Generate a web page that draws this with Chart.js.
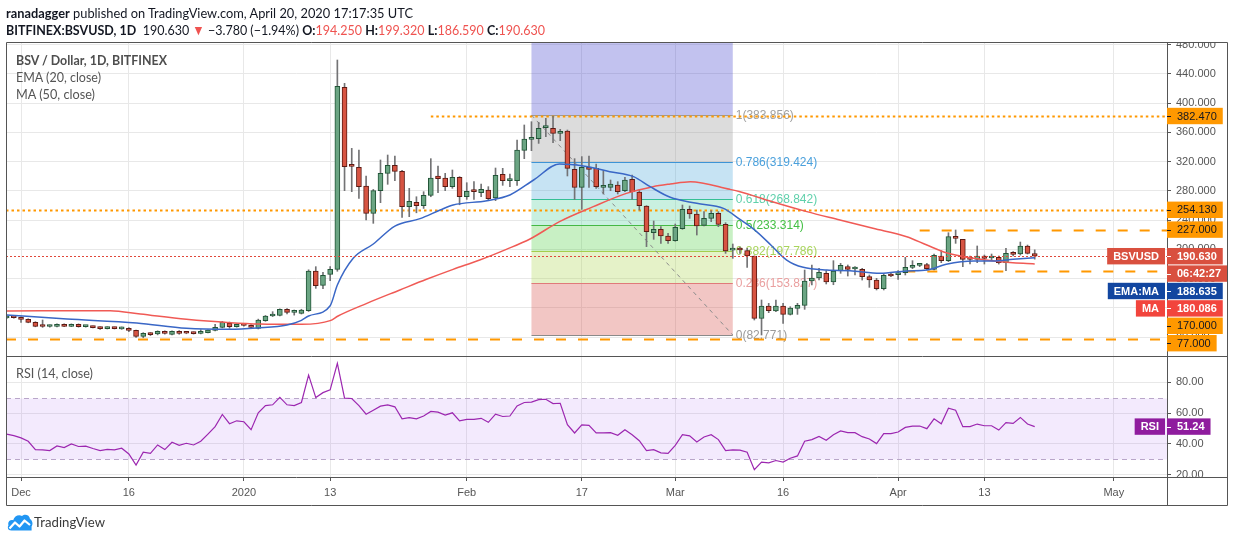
<!DOCTYPE html>
<html lang="en">
<head>
<meta charset="utf-8">
<title>BSV / Dollar, 1D, BITFINEX</title>
<script src="https://cdn.jsdelivr.net/npm/chart.js"></script>
<style>
  html, body { margin: 0; padding: 0; background: #fff; }
  body { position: relative; width: 1234px; height: 541px; overflow: hidden; font-family: Lato, 'Liberation Sans', sans-serif; color: #131722; }
  canvas { position: absolute; left: 0; top: 0; width: 1234px; height: 541px; }
  .t { position: absolute; white-space: nowrap; line-height: 1; transform-origin: 0 50%; z-index: 5; }
  .h { left: 6px; font-size: 14px; }
  .dn { color: #ef5350; }
  .leg { left: 16px; font-size: 13px; color: #555; }
  .brand { left: 34px; top: 515px; font-size: 14px; color: #3a3a3a; }
  b { font-weight: 700; }
</style>
</head>
<body>
<canvas id="main" width="1234" height="541"></canvas>
<canvas id="rsi" width="1234" height="541"></canvas>

<div class="t h" style="top:6px" data-w="407"><b>ranadagger</b> published on TradingView.com, April 20, 2020 17:17:35 UTC</div>
<div class="t h" style="top:23px" data-w="539"><b>BITFINEX:BSVUSD, 1D</b>&nbsp; 190.630 <span class="dn">▼</span> −3.780 (−1.94%) <b>O:</b><span class="dn">194.250</span> <b>H:</b><span class="dn">199.320</span> <b>L:</b><span class="dn">186.590</span> <b>C:</b><span class="dn">190.630</span></div>
<div class="t leg" style="top:54px;font-weight:700;color:#4e4e4e" data-w="151">BSV / Dollar, 1D, BITFINEX</div>
<div class="t leg" style="top:71px" data-w="85">EMA (20, close)</div>
<div class="t leg" style="top:88px" data-w="79">MA (50, close)</div>
<div class="t leg" style="top:367px" data-w="77">RSI (14, close)</div>
<svg style="position:absolute;left:7px;top:513px;z-index:5" width="26" height="18" viewBox="0 0 26 18">
  <path d="M4.5 17.5 C1 17.5 0 14.5 1.5 12.3 C0.3 9 3 6.4 6.2 7.3 C7.2 3.2 11.5 1.2 15 3 C17.6 0.4 22.6 1.6 23 6 C25.6 7.2 26.2 11.5 24.6 13.4 L24.6 17.5 Z" fill="#2196f3"/>
  <polyline points="2.5,15.5 8,9.5 12.5,13.5 17.5,7.5 23,12" stroke="#fff" stroke-width="2.2" fill="none" stroke-linejoin="round"/>
</svg>
<div class="t brand" data-w="71">TradingView</div>

<script>
// ---- values ----
// x is counted in days from 1 Dec 2019; the first candle is 29 Nov 2019
const firstDay = -2;

const opens = [
  106.0, 108.3, 106.9, 104.2, 100.1, 94.6, 94.4,
  94.6, 97.4, 94.6, 97.4, 94.2, 94.6, 93.5,
  91.4, 93.2, 91.2, 92.0, 89.1, 80.9, 85.5,
  84.1, 87.8, 83.7, 87.8, 86.5, 86.4, 85.0,
  86.0, 89.1, 93.2, 98.7, 94.2, 96.5, 96.0,
  91.9, 102.4, 108.8, 109.7, 117.9, 113.8, 112.4,
  116.1, 170.4, 150.7, 165.8, 172.6, 421.7, 314.5,
  312.2, 286.7, 249.3, 280.3, 304.0, 315.0, 306.8,
  258.4, 264.3, 259.8, 273.9, 300.4, 297.6, 285.8,
  298.5, 272.0, 279.4, 277.6, 281.2, 270.3, 302.7,
  294.0, 294.0, 335.5, 350.6, 351.5, 366.5, 365.6,
  358.8, 362.0, 309.5, 284.9, 312.7, 310.9, 284.9,
  284.9, 288.0, 280.3, 295.8, 278.5, 259.3, 222.8,
  227.4, 218.3, 211.9, 228.3, 254.8, 248.4, 232.9,
  242.4, 249.3, 234.2, 199.0, 200.5, 198.2, 190.9,
  105.6, 122.5, 115.6, 122.5, 111.0, 119.3, 123.4,
  156.7, 160.8, 167.2, 155.3, 170.4, 176.3, 173.1,
  172.6, 162.6, 158.0, 146.2, 165.8, 165.3, 168.1,
  175.4, 178.1, 179.0, 172.6, 190.9, 184.5, 217.3,
  213.7, 187.2, 186.3, 190.9, 188.2, 189.0, 181.7,
  195.0, 193.6, 204.6, 194.25
];
const highs = [
  110.0, 109.0, 107.5, 105.0, 101.0, 103.3, 96.5,
  98.0, 98.0, 98.0, 98.0, 96.0, 95.0, 94.0,
  94.0, 93.6, 93.8, 93.0, 89.5, 86.0, 86.0,
  88.5, 88.5, 88.5, 88.8, 87.0, 87.0, 90.0,
  90.0, 97.5, 101.5, 100.5, 98.0, 98.5, 97.0,
  104.5, 109.5, 114.7, 118.5, 119.0, 117.0, 118.0,
  172.0, 176.3, 168.5, 176.3, 459.1, 427.2, 338.2,
  336.0, 300.4, 282.0, 322.3, 329.1, 327.8, 308.0,
  283.5, 272.0, 278.9, 324.1, 314.0, 304.0, 308.6,
  299.5, 291.2, 292.6, 289.4, 285.8, 311.3, 310.9,
  303.1, 349.6, 370.2, 374.7, 373.9, 379.3, 382.5,
  364.2, 363.3, 324.1, 326.9, 327.8, 316.8, 307.7,
  294.9, 292.6, 298.5, 301.7, 281.2, 259.8, 238.8,
  231.0, 221.9, 234.7, 260.7, 259.3, 253.8, 251.6,
  252.9, 251.6, 236.5, 207.3, 203.0, 201.3, 191.0,
  130.7, 126.1, 130.7, 126.1, 121.5, 126.1, 171.7,
  178.6, 174.0, 170.8, 184.5, 180.8, 178.6, 176.3,
  174.0, 164.9, 160.3, 166.2, 168.1, 170.8, 189.0,
  184.5, 180.8, 180.8, 193.6, 198.2, 222.8, 226.5,
  213.7, 190.9, 204.6, 192.2, 193.6, 190.9, 201.4,
  196.8, 210.0, 205.9, 199.32
];
const lows = [
  105.0, 105.8, 100.1, 99.5, 94.0, 93.2, 93.5,
  94.0, 94.2, 94.2, 93.5, 93.5, 92.5, 90.5,
  91.0, 91.0, 90.5, 87.5, 79.5, 79.0, 82.0,
  83.0, 84.0, 83.0, 83.8, 84.5, 84.0, 84.3,
  85.5, 88.5, 92.5, 92.0, 93.5, 95.0, 92.5,
  91.0, 101.5, 108.0, 109.0, 111.5, 110.0, 111.5,
  115.0, 146.6, 146.1, 157.1, 170.0, 280.3, 278.9,
  269.8, 240.2, 235.6, 263.9, 289.0, 294.0, 243.8,
  244.7, 250.0, 256.0, 272.0, 277.6, 280.3, 283.5,
  261.0, 268.4, 268.4, 272.0, 267.5, 266.6, 287.6,
  285.8, 287.6, 324.1, 335.0, 345.0, 354.2, 346.0,
  348.7, 300.4, 268.4, 254.7, 284.9, 283.5, 275.8,
  280.3, 275.8, 278.9, 268.4, 253.8, 203.7, 213.7,
  208.2, 208.2, 211.0, 227.4, 242.4, 219.6, 232.0,
  237.9, 231.0, 194.5, 187.7, 194.5, 175.4, 103.3,
  82.771, 113.3, 114.7, 98.7, 110.1, 111.0, 117.9,
  151.2, 158.0, 152.6, 151.6, 167.2, 163.5, 164.9,
  158.0, 148.0, 144.4, 144.4, 162.6, 158.9, 164.9,
  173.6, 176.3, 171.7, 171.7, 181.8, 183.1, 208.2,
  176.3, 179.9, 181.8, 179.9, 185.4, 179.9, 170.8,
  190.9, 192.2, 193.6, 186.59
];
const closes = [
  108.8, 106.5, 104.2, 100.1, 94.6, 94.4, 94.6,
  97.4, 94.6, 97.4, 94.2, 94.7, 92.8, 91.4,
  93.2, 91.4, 93.2, 89.1, 80.9, 85.0, 83.2,
  87.8, 85.0, 87.8, 85.0, 85.2, 84.6, 86.4,
  89.6, 93.2, 100.5, 94.2, 97.4, 96.0, 93.2,
  103.3, 108.8, 110.1, 117.9, 113.8, 114.7, 117.0,
  170.4, 150.3, 164.4, 172.6, 423.1, 313.1, 313.5,
  285.8, 249.3, 280.3, 304.0, 315.0, 306.8, 258.4,
  265.7, 259.8, 273.9, 297.6, 296.7, 285.8, 298.5,
  272.0, 279.4, 279.0, 282.0, 269.3, 301.3, 294.0,
  294.9, 336.0, 351.0, 353.3, 365.6, 367.0, 358.8,
  361.5, 310.9, 284.9, 312.2, 309.5, 285.8, 286.7,
  289.4, 278.9, 294.9, 278.9, 259.8, 224.2, 227.4,
  218.3, 211.9, 230.1, 254.8, 248.4, 231.9, 242.4,
  249.3, 234.2, 197.7, 200.5, 199.1, 190.9, 105.6,
  122.5, 116.1, 122.5, 111.0, 119.7, 123.4, 156.7,
  160.8, 168.5, 155.3, 170.4, 178.1, 172.6, 173.5,
  162.6, 158.0, 146.2, 164.4, 163.5, 167.2, 175.4,
  178.1, 179.0, 173.6, 191.8, 184.5, 217.3, 215.1,
  186.3, 186.3, 190.9, 187.7, 189.0, 181.7, 194.5,
  193.2, 204.6, 194.5, 190.63
];
const rsiValues = [
  46.4, 45.4, 43.9, 41.7, 36.3, 36.1, 35.7,
  38.7, 37.6, 40.0, 38.3, 38.5, 37.0, 35.7,
  36.5, 36.1, 37.2, 33.5, 26.2, 34.6, 33.8,
  39.3, 36.3, 41.1, 39.1, 40.4, 39.3, 41.7,
  46.4, 51.2, 59.1, 53.1, 55.0, 54.4, 49.2,
  60.2, 64.9, 65.4, 70.3, 65.4, 64.9, 66.9,
  84.7, 70.1, 73.3, 75.1, 92.3, 69.7, 69.5,
  64.9, 59.3, 61.9, 64.5, 65.4, 64.1, 56.3,
  57.0, 56.3, 58.1, 61.1, 60.6, 58.7, 60.2,
  55.0, 55.9, 55.9, 56.6, 54.0, 59.3, 57.8,
  58.1, 64.7, 66.9, 67.1, 68.8, 69.0, 66.2,
  66.4, 52.5, 47.1, 52.3, 52.0, 47.1, 47.1,
  47.3, 45.6, 49.2, 46.0, 42.1, 35.7, 36.3,
  34.2, 33.8, 39.1, 46.0, 45.2, 41.3, 44.5,
  46.0, 42.8, 35.7, 36.1, 35.9, 34.6, 23.2,
  28.2, 27.7, 29.2, 28.2, 30.7, 32.2, 41.7,
  42.8, 44.9, 42.4, 46.0, 48.4, 47.3, 47.3,
  44.7, 43.2, 40.2, 46.7, 46.7, 47.7, 50.7,
  51.6, 51.6, 49.9, 56.3, 53.1, 63.2, 61.9,
  51.2, 51.2, 52.9, 51.8, 51.8, 49.0, 53.8,
  53.3, 57.2, 52.9, 51.24
];

// moving averages, traced at the bends of the drawn lines
const emaDays = [-2, 6.4, 16.1, 23, 29.1, 32.8, 37, 39, 40, 43, 44, 46.2, 49, 52, 55.5, 58.3, 60.1, 64.8, 68, 71.3,
  74.9, 78.2, 81.9, 85.2, 87.5, 90.3, 94, 97.7, 100, 102, 104.4, 106.5, 108.8, 112.1, 115.3, 119.5, 123.2, 126, 128.7, 132.5,
  135.2, 138, 141];
const emaValues = [110.1, 104.7, 99.2, 91.9, 90.5, 92.3, 96.4, 102.8, 108.8, 122.9, 151.2, 187.7, 207.3, 231.9, 242, 253.8, 260.7, 266.6, 274.4, 294.9,
  316.8, 314.1, 306.3, 299.5, 285.8, 271.2, 263, 256.1, 241, 227, 205, 185.4, 175.4, 171.7, 170.8, 167.2, 170.4, 171.7, 179.5, 184,
  184, 186.3, 188.635];
const maDays = [-2, 12.4, 16.6, 23, 29.1, 33.2, 39, 43, 44.1, 48.1, 52.7, 56.4, 60.1, 63.8, 67.5, 70.8, 74.9, 79.6, 84.2, 87.9,
  90.3, 93.1, 98.6, 100, 104.4, 109.3, 113.9, 118.5, 123.2, 126, 128.7, 132.5, 136.2, 141];
const maValues = [115.6, 116.1, 111.5, 104.2, 99.6, 97.8, 97.4, 102.4, 108.8, 126.1, 144.4, 159, 172.6, 185.4, 200, 214.2, 237.9, 258.4, 276.6, 285.8,
  289.4, 292.6, 282.1, 278.9, 265.5, 251.6, 240.2, 228.8, 217.3, 205.9, 195.4, 187.7, 183.1, 180.086];

const tickDays = [0, 15, 31, 43, 62, 78, 91, 106, 122, 134, 152];
const tickLabels = ['Dec', '16', '2020', '13', 'Feb', '17', 'Mar', '16', 'Apr', '13', 'May'];
const priceTicks = [80, 120, 160, 200, 240, 280, 320, 360, 400, 440, 480];
const rsiTicks = [20, 40, 60, 80];

// hand-drawn horizontal levels
const levelValues = [382.47, 254.13, 227, 170, 77];
const levelFrom = [57, -3, 125, 123, -3];
const levelDotted = [true, true, false, false, false];

// fib retracement
const fibRatios = ['1', '0.786', '0.618', '0.5', '0.382', '0.236', '0'];
const fibPrices = [383.856, 319.424, 268.842, 233.314, 197.786, 153.827, 82.771];
const fibDays = [71, 99];

const emaLast = 188.635, maLast = 180.086, countdown = '06:42:27';

// ---- look ----
const X_MIN = -2.09, X_MAX = 159.4;
const UP = '#6ba583', DOWN = '#d75442', UP_B = '#225437', DOWN_B = '#5b1a13', WICK = '#737375';
const ORANGE = '#ff9800', PRICE_RED = '#d9503f', EMA_C = '#3a67c6', EMA_BOX = '#1246a0', MA_C = '#f05a55', MA_BOX = '#f2453d';
const RSI_C = '#9c27b0', RSI_BOX = '#8f1c9e';
const GRID = '#e8e8e8', AXIS = '#555';
const fibFills = ['rgba(52,52,202,0.3)', 'rgba(138,138,138,0.3)', 'rgba(65,162,215,0.3)', 'rgba(75,205,152,0.3)',
  'rgba(72,205,58,0.3)', 'rgba(168,212,72,0.3)', 'rgba(212,65,58,0.3)'];
const fibLines = ['#9a9a9a', '#3d94d6', '#35bf95', '#45b845', '#a3cf4d', '#e07a7a', '#8a8a8a'];
const fibText = ['#a0a0a0', '#4aa0dc', '#5fd0ab', '#45c045', '#a8d45c', '#eaa0a0', '#9a9a9a'];
const FONT = "'Liberation Sans', Arial, sans-serif";

Chart.defaults.font.family = FONT;
Chart.defaults.font.size = 11;
Chart.defaults.color = AXIS;
Chart.defaults.animation = false;
Chart.defaults.plugins.legend.display = false;
Chart.defaults.plugins.tooltip.enabled = false;

const days = closes.map((_, i) => firstDay + i);
const isUp = closes.map((c, i) => c >= opens[i]);
const bodies = days.map((d, i) => ({ x: d, y: [opens[i], closes[i]] }));
const wicks = days.map((d, i) => ({ x: d, y: [lows[i], highs[i]] }));
const emaPts = emaDays.map((d, i) => ({ x: d, y: emaValues[i] }));
const maPts = maDays.map((d, i) => ({ x: d, y: maValues[i] }));
const rsiPts = days.map((d, i) => ({ x: d, y: rsiValues[i] }));

function hline(ctx, x0, x1, y, color, width, dash) {
  ctx.save();
  ctx.strokeStyle = color; ctx.lineWidth = width; ctx.setLineDash(dash || []);
  ctx.beginPath(); ctx.moveTo(x0, y); ctx.lineTo(x1, y); ctx.stroke();
  ctx.restore();
}

function box(ctx, x, top, w, h, bg, fg, text, bold) {
  ctx.fillStyle = bg;
  ctx.fillRect(x, top + 0.5, w, h - 1);
  ctx.fillStyle = fg;
  ctx.font = (bold ? 'bold ' : '') + '11px ' + FONT;
  ctx.textBaseline = 'middle';
  ctx.textAlign = 'left';
  ctx.fillText(text, x + 10, top + h / 2 + 0.5);
  ctx.fillRect(x, Math.round(top + h / 2), 4, 1);
}

function tag(ctx, right, top, h, bg, text) {
  ctx.font = 'bold 11px ' + FONT;
  const w = ctx.measureText(text).width + 12;
  ctx.fillStyle = bg;
  ctx.fillRect(right - w, top + 0.5, w, h - 1);
  ctx.fillStyle = '#fff';
  ctx.textBaseline = 'middle';
  ctx.textAlign = 'left';
  ctx.fillText(text, right - w + 6, top + h / 2 + 0.5);
}

const mainDecor = {
  id: 'mainDecor',
  beforeDatasetsDraw(chart) {
    const { ctx, chartArea: ca, scales: { x, y } } = chart;
    const x0 = x.getPixelForValue(fibDays[0]), x1 = x.getPixelForValue(fibDays[1]);
    ctx.save();
    // fib bands
    ctx.fillStyle = fibFills[0];
    ctx.fillRect(x0, ca.top, x1 - x0, y.getPixelForValue(fibPrices[0]) - ca.top);
    for (let i = 0; i < fibPrices.length - 1; i++) {
      const a = y.getPixelForValue(fibPrices[i]), b = y.getPixelForValue(fibPrices[i + 1]);
      ctx.fillStyle = fibFills[i + 1];
      ctx.fillRect(x0, a, x1 - x0, b - a);
    }
    fibPrices.forEach((p, i) => {
      const py = Math.round(y.getPixelForValue(p)) + 0.5;
      hline(ctx, x0, x1, py, fibLines[i], 1);
      ctx.fillStyle = fibText[i];
      ctx.font = '12px ' + FONT;
      ctx.textBaseline = 'middle';
      ctx.fillText(fibRatios[i] + '(' + p.toFixed(3) + ')', x1 + 3, py);
    });
    // trend line of the fib tool
    ctx.strokeStyle = '#8a8a8a'; ctx.lineWidth = 1; ctx.setLineDash([4, 4]);
    ctx.beginPath();
    ctx.moveTo(x0, y.getPixelForValue(fibPrices[0]));
    ctx.lineTo(x1, y.getPixelForValue(fibPrices[fibPrices.length - 1]));
    ctx.stroke();
    ctx.restore();
    // orange levels
    levelValues.forEach((v, i) => {
      const py = Math.round(y.getPixelForValue(v)) + 0.5;
      const from = Math.max(ca.left, x.getPixelForValue(levelFrom[i]));
      hline(ctx, from, ca.right, py, ORANGE, 2, levelDotted[i] ? [2.5, 3] : [10, 12]);
    });
  },
  afterDatasetsDraw(chart) {
    const { ctx, chartArea: ca, scales: { y } } = chart;
    const py = Math.round(y.getPixelForValue(closes[closes.length - 1])) + 0.5;
    hline(ctx, ca.left, ca.right, py, '#e0473a', 1, [2, 2]);
  },
  afterDraw(chart) {
    const { ctx, chartArea: ca, scales: { y } } = chart;
    ctx.save();
    // the top tick label is cut by the pane edge
    ctx.fillStyle = '#fff';
    ctx.fillRect(ca.right + 1, ca.top - 14, 60, 14);
    const H = 17.4, L = ca.right;
    const last = closes[closes.length - 1];
    const items = levelValues.map(v => ({ v, rows: [[v.toFixed(3), ORANGE, '#131722', false]] }));
    items.push({ v: last, tag: ['BSVUSD', PRICE_RED], rows: [[last.toFixed(3), PRICE_RED, '#fff', true], [countdown, PRICE_RED, '#fff', true]] });
    items.push({ v: emaLast, tag: ['EMA:MA', EMA_BOX], rows: [[emaLast.toFixed(3), EMA_BOX, '#fff', true]] });
    items.push({ v: maLast, tag: ['MA', MA_BOX], rows: [[maLast.toFixed(3), MA_BOX, '#fff', true]] });
    items.forEach(it => { it.py = y.getPixelForValue(it.v); });
    items.sort((a, b) => a.py - b.py);
    let prev = -Infinity;
    items.forEach(it => {
      const top = Math.max(it.py - H / 2, prev);
      it.rows.forEach((r, k) => {
        ctx.font = (r[3] ? 'bold ' : '') + '11px ' + FONT;
        const w = ctx.measureText(r[0]).width + 16;
        box(ctx, L, top + k * H, w, H, r[1], r[2], r[0], r[3]);
      });
      if (it.tag) tag(ctx, L - 2, top, H, it.tag[1], it.tag[0]);
      prev = top + H * it.rows.length;
    });
    ctx.restore();
  }
};

const rsiDecor = {
  id: 'rsiDecor',
  beforeDatasetsDraw(chart) {
    const { ctx, chartArea: ca, scales: { y } } = chart;
    const a = Math.round(y.getPixelForValue(70)) + 0.5, b = Math.round(y.getPixelForValue(30)) + 0.5;
    ctx.save();
    ctx.fillStyle = 'rgba(160,90,240,0.13)';
    ctx.fillRect(ca.left, a, ca.right - ca.left, b - a);
    ctx.restore();
    hline(ctx, ca.left, ca.right, a, '#b9a6c9', 1, [5, 4]);
    hline(ctx, ca.left, ca.right, b, '#b9a6c9', 1, [5, 4]);
  },
  afterDraw(chart) {
    const { ctx, chartArea: ca, scales: { y } } = chart;
    ctx.save();
    // bottom tick label is cut by the pane edge
    ctx.fillStyle = '#fff';
    ctx.fillRect(ca.right + 1, ca.bottom + 1, 60, 14);
    const H = 17.4, last = rsiValues[rsiValues.length - 1];
    const top = y.getPixelForValue(last) - H / 2;
    ctx.font = 'bold 11px ' + FONT;
    box(ctx, ca.right, top, ctx.measureText(last.toFixed(2)).width + 16, H, RSI_BOX, '#fff', last.toFixed(2), true);
    tag(ctx, ca.right - 2, top, H, RSI_BOX, 'RSI');
    // frame of the whole widget
    const left = ca.left, right = ca.right + 61, top0 = 42, bottom = ca.bottom + 28;
    ctx.strokeStyle = AXIS; ctx.lineWidth = 1;
    ctx.beginPath();
    ctx.rect(left + 0.5, top0 + 0.5, right - left - 1, bottom - top0);
    ctx.moveTo(left, ca.top + 0.5); ctx.lineTo(right, ca.top + 0.5);
    ctx.moveTo(ca.right, ca.bottom + 0.5); ctx.lineTo(right, ca.bottom + 0.5);
    ctx.moveTo(ca.right + 0.5, ca.bottom); ctx.lineTo(ca.right + 0.5, bottom);
    ctx.stroke();
    ctx.restore();
  }
};

const xCommon = {
  type: 'linear', min: X_MIN, max: X_MAX, offset: false,
  afterBuildTicks: s => { s.ticks = tickDays.map(v => ({ value: v })); }
};

new Chart(document.getElementById('main'), {
  type: 'bar',
  data: {
    datasets: [
      { type: 'line', data: emaPts, borderColor: EMA_C, borderWidth: 1.5, pointRadius: 0, cubicInterpolationMode: 'monotone', order: 0 },
      { type: 'line', data: maPts, borderColor: MA_C, borderWidth: 1.5, pointRadius: 0, cubicInterpolationMode: 'monotone', order: 0 },
      { type: 'bar', data: bodies, grouped: false, barThickness: 5, minBarLength: 2, borderWidth: 1, borderSkipped: false,
        backgroundColor: isUp.map(u => u ? UP : DOWN), borderColor: isUp.map(u => u ? UP_B : DOWN_B), order: 1 },
      { type: 'bar', data: wicks, grouped: false, barThickness: 1, borderWidth: 0, backgroundColor: WICK, order: 2 }
    ]
  },
  options: {
    responsive: false,
    layout: { padding: { left: 6, right: 6, top: 42, bottom: 185 } },
    scales: {
      x: Object.assign({}, xCommon, {
        afterFit: s => { s.height = 0; },
        ticks: { display: false },
        grid: { color: GRID, drawTicks: false, offset: false },
        border: { display: false }
      }),
      y: {
        position: 'right', min: 54.04, max: 483.76,
        afterBuildTicks: s => { s.ticks = priceTicks.map(v => ({ value: v })); },
        afterFit: s => { s.width = 61; },
        ticks: { padding: 5, color: AXIS, callback: v => v.toFixed(3) },
        grid: { color: GRID, tickColor: AXIS, tickLength: 4 },
        border: { color: AXIS }
      }
    }
  },
  plugins: [mainDecor]
});

new Chart(document.getElementById('rsi'), {
  type: 'line',
  data: {
    datasets: [{ data: rsiPts, borderColor: RSI_C, borderWidth: 1.2, pointRadius: 0 }]
  },
  options: {
    responsive: false,
    layout: { padding: { left: 6, right: 6, top: 356, bottom: 36 } },
    scales: {
      x: Object.assign({}, xCommon, {
        afterFit: s => { s.height = 28; },
        ticks: { autoSkip: false, maxRotation: 0, padding: 5, color: AXIS, callback: (v, i) => tickLabels[i] },
        grid: { color: GRID, tickColor: AXIS, tickLength: 4 },
        border: { color: AXIS }
      }),
      y: {
        position: 'right', min: 18.5, max: 97.1,
        afterBuildTicks: s => { s.ticks = rsiTicks.map(v => ({ value: v })); },
        afterFit: s => { s.width = 61; },
        ticks: { padding: 5, color: AXIS, callback: v => v.toFixed(2) },
        grid: { color: GRID, tickColor: AXIS, tickLength: 4 },
        border: { color: AXIS }
      }
    }
  },
  plugins: [rsiDecor]
});

// squeeze the html captions to the widths they have in the picture
function fitText() {
  document.querySelectorAll('[data-w]').forEach(el => {
    el.style.transform = 'none';
    const w = el.getBoundingClientRect().width;
    if (w > 0) el.style.transform = 'scaleX(' + (+el.dataset.w / w) + ')';
  });
}
fitText();
if (document.fonts) document.fonts.ready.then(fitText);
</script>
</body>
</html>
